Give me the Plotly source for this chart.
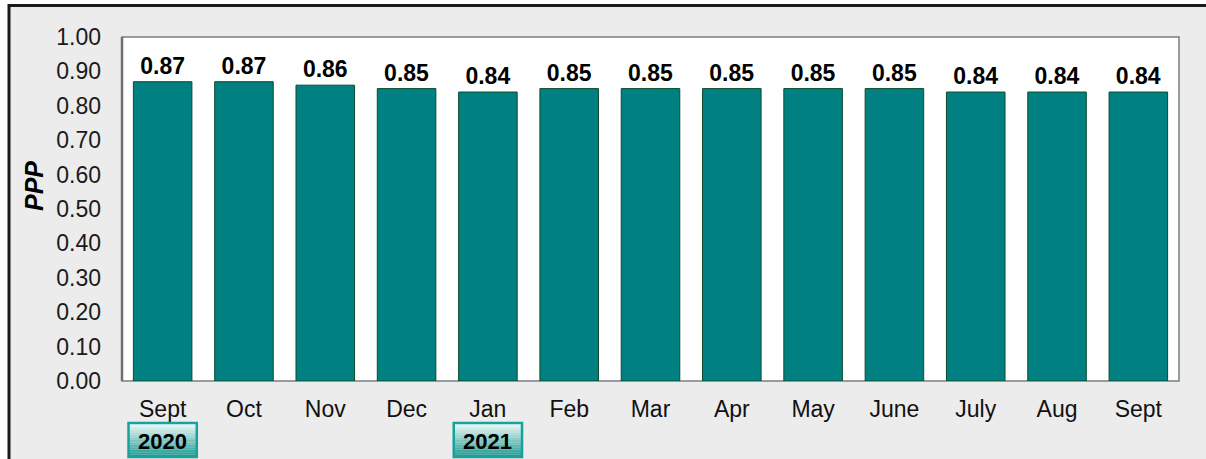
import plotly.graph_objects as go

months = ["Sept", "Oct", "Nov", "Dec", "Jan", "Feb", "Mar", "Apr", "May",
          "June", "July", "Aug", "Sept"]
ppp = [0.87, 0.87, 0.86, 0.85, 0.84, 0.85, 0.85, 0.85, 0.85, 0.85, 0.84, 0.84, 0.84]
years = ["2020", "2021"]
year_pos = [0, 4]
y_ticks = [0.0, 0.1, 0.2, 0.3, 0.4, 0.5, 0.6, 0.7, 0.8, 0.9, 1.0]

FONT = "Arial, Liberation Sans, sans-serif"
W, H = 1206, 459
ML, MR, MT, MB = 122, 27, 37, 78
pw, ph = W - ML - MR, H - MT - MB

def px_to_paper_x(px):
    return (px - ML) / pw

def px_to_paper_y(py):
    return (H - MB - py) / ph

x = list(range(len(months)))

fig = go.Figure()
fig.add_trace(go.Bar(
    x=x, y=ppp,
    marker=dict(color="#008080", line=dict(color="#0b4a2c", width=1)),
    text=[f"{v:.2f}" for v in ppp],
    textposition="outside",
    constraintext="none",
    textfont=dict(family=FONT, size=23, color="#000000", weight="bold"),
    cliponaxis=False,
    hoverinfo="skip",
))

shapes = []
# outer panel (gray with black left/top frame)
shapes.append(dict(type="rect", xref="paper", yref="paper",
                   x0=px_to_paper_x(9), x1=px_to_paper_x(W + 20),
                   y0=px_to_paper_y(H + 20), y1=px_to_paper_y(5.5),
                   fillcolor="#ececec", line=dict(color="#1a1a1a", width=3),
                   layer="below"))
# plot area
shapes.append(dict(type="rect", xref="paper", yref="paper",
                   x0=0, x1=1, y0=0, y1=1,
                   fillcolor="#ffffff", line=dict(color="#7a7f85", width=1.5),
                   layer="below"))
shapes.append(dict(type="line", xref="paper", yref="paper",
                   x0=0, x1=0, y0=0, y1=1,
                   line=dict(color="#6a6f75", width=2.5), layer="below"))

# year boxes with vertical gradient
box_top, box_bot = 423, 457
n_strips = 14
c_top = (238, 249, 248)
c_bot = (28, 156, 148)
annotations = []
for yr, pos in zip(years, year_pos):
    for k in range(n_strips):
        t = k / (n_strips - 1)
        col = tuple(int(c_top[j] + (c_bot[j] - c_top[j]) * t) for j in range(3))
        y0p = box_top + (box_bot - box_top) * k / n_strips
        y1p = box_top + (box_bot - box_top) * (k + 1) / n_strips
        shapes.append(dict(type="rect", xref="x", yref="paper",
                           x0=pos - 0.42, x1=pos + 0.42,
                           y0=px_to_paper_y(y1p), y1=px_to_paper_y(y0p),
                           fillcolor="rgb(%d,%d,%d)" % col,
                           line=dict(width=0), layer="above"))
    shapes.append(dict(type="rect", xref="x", yref="paper",
                       x0=pos - 0.42, x1=pos + 0.42,
                       y0=px_to_paper_y(box_bot), y1=px_to_paper_y(box_top),
                       fillcolor="rgba(0,0,0,0)",
                       line=dict(color="#17a39b", width=2.5), layer="above"))
    annotations.append(dict(x=pos, xref="x", y=px_to_paper_y((box_top + box_bot) / 2 + 1),
                            yref="paper", text=f"<b>{yr}</b>", showarrow=False,
                            font=dict(family=FONT, size=22, color="#000000"),
                            xanchor="center", yanchor="middle"))

annotations.append(dict(x=px_to_paper_x(34), xref="paper",
                        y=px_to_paper_y(186), yref="paper",
                        text="<b><i>PPP</i></b>", textangle=-90, showarrow=False,
                        font=dict(family=FONT, size=25, color="#000000"),
                        xanchor="center", yanchor="middle"))

fig.update_layout(
    width=W, height=H,
    margin=dict(l=ML, r=MR, t=MT, b=MB, pad=0),
    paper_bgcolor="#ffffff",
    plot_bgcolor="rgba(0,0,0,0)",
    showlegend=False,
    bargap=0.28,
    shapes=shapes,
    annotations=annotations,
    xaxis=dict(range=[-0.5, len(months) - 0.5], tickvals=x, ticktext=months,
               tickfont=dict(family=FONT, size=23, color="#111111"),
               showgrid=False, zeroline=False, showline=False, ticks="",
               ticklabelstandoff=12),
    yaxis=dict(range=[0, 1.0], tickvals=y_ticks, tickformat=".2f",
               tickfont=dict(family=FONT, size=23, color="#1a1a1a"),
               showgrid=False, zeroline=False, showline=False, ticks="",
               ticklabelstandoff=20),
)

fig.write_html("out.html", config={"displayModeBar": False},
               post_script="document.body.style.margin='0';document.body.style.overflow='hidden';")
